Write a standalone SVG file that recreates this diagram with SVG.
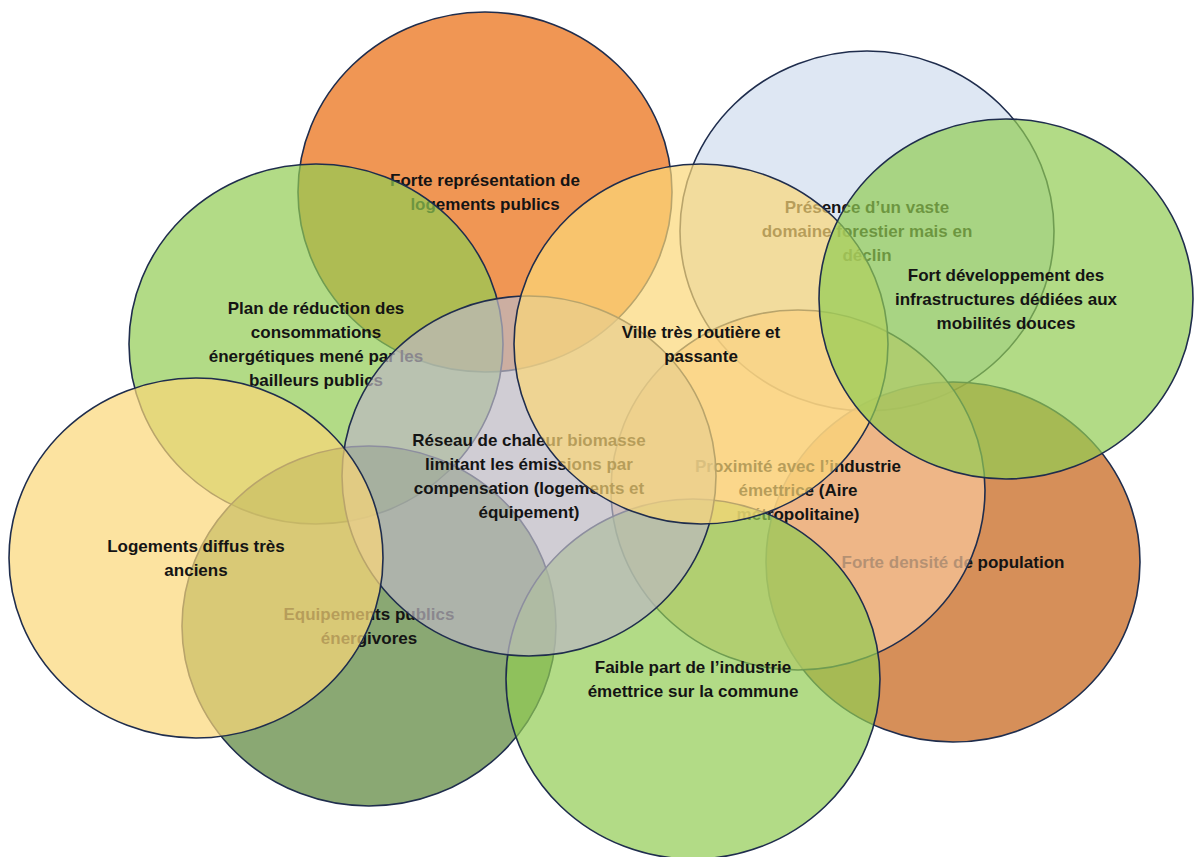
<svg xmlns="http://www.w3.org/2000/svg" width="1194" height="857" viewBox="0 0 1194 857">
<style>
.c{stroke:#1f2d4d;stroke-width:1.6;fill-opacity:0.7}
.t{font-family:"Liberation Sans",Arial,sans-serif;font-weight:bold;font-size:17px;text-anchor:middle;fill:#141414}
</style>
<rect width="1194" height="857" fill="#ffffff"/>
<g id="node-logements-publics">
<ellipse class="c" cx="485" cy="192" rx="187" ry="180" fill="#EA690B"/>
<text class="t" x="485"><tspan x="485" y="186">Forte représentation de</tspan><tspan x="485" y="210">logements publics</tspan></text>
</g>
<g id="node-domaine-forestier">
<ellipse class="c" cx="867" cy="231" rx="187" ry="180" fill="#D0DDEE"/>
<text class="t"><tspan x="867" y="213">Présence d’un vaste</tspan><tspan x="867" y="237">domaine forestier mais en</tspan><tspan x="867" y="261">déclin</tspan></text>
</g>
<g id="node-plan-reduction">
<ellipse class="c" cx="316" cy="344" rx="187" ry="180" fill="#91CC52"/>
<text class="t"><tspan x="316" y="314">Plan de réduction des</tspan><tspan x="316" y="338">consommations</tspan><tspan x="316" y="362">énergétiques mené par les</tspan><tspan x="316" y="386">bailleurs publics</tspan></text>
</g>
<g id="node-densite">
<ellipse class="c" cx="953" cy="562" rx="187" ry="180" fill="#C55F13"/>
<text class="t"><tspan x="953" y="568">Forte densité de population</tspan></text>
</g>
<g id="node-proximite-industrie">
<ellipse class="c" cx="798" cy="490" rx="187" ry="180" fill="#F8C69B"/>
<text class="t"><tspan x="798" y="472">Proximité avec l’industrie</tspan><tspan x="798" y="496">émettrice (Aire</tspan><tspan x="798" y="520">métropolitaine)</tspan></text>
</g>
<g id="node-equipements">
<ellipse class="c" cx="369" cy="626" rx="187" ry="180" fill="#588337"/>
<text class="t"><tspan x="369" y="620">Equipements publics</tspan><tspan x="369" y="644">énergivores</tspan></text>
</g>
<g id="node-faible-industrie">
<ellipse class="c" cx="693" cy="679" rx="187" ry="180" fill="#91CC52"/>
<text class="t"><tspan x="693" y="673">Faible part de l’industrie</tspan><tspan x="693" y="697">émettrice sur la commune</tspan></text>
</g>
<g id="node-reseau-chaleur">
<ellipse class="c" cx="529" cy="476" rx="187" ry="180" fill="#BCB8C2"/>
<text class="t"><tspan x="529" y="446">Réseau de chaleur biomasse</tspan><tspan x="529" y="470">limitant les émissions par</tspan><tspan x="529" y="494">compensation (logements et</tspan><tspan x="529" y="518">équipement)</tspan></text>
</g>
<g id="node-logements-diffus">
<ellipse class="c" cx="196" cy="558" rx="187" ry="180" fill="#FBD777"/>
<text class="t"><tspan x="196" y="552">Logements diffus très</tspan><tspan x="196" y="576">anciens</tspan></text>
</g>
<g id="node-ville-routiere">
<ellipse class="c" cx="701" cy="344" rx="187" ry="180" fill="#FBD777"/>
<text class="t"><tspan x="701" y="338">Ville très routière et</tspan><tspan x="701" y="362">passante</tspan></text>
</g>
<g id="node-mobilites-douces">
<ellipse class="c" cx="1006" cy="299" rx="187" ry="180" fill="#91CC52"/>
<text class="t"><tspan x="1006" y="281">Fort développement des</tspan><tspan x="1006" y="305">infrastructures dédiées aux</tspan><tspan x="1006" y="329">mobilités douces</tspan></text>
</g>
<g id="connectors"></g>
</svg>
